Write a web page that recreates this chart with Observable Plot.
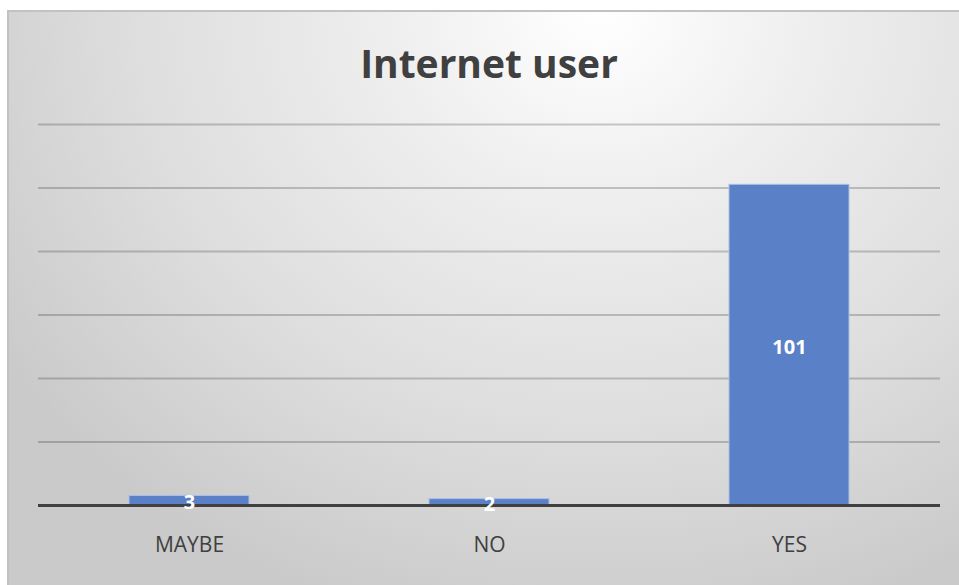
<!DOCTYPE html>
<html>
<head>
<meta charset="utf-8">
<script src="https://cdn.jsdelivr.net/npm/d3@7"></script>
<script src="https://cdn.jsdelivr.net/npm/@observablehq/plot@0.6"></script>
<style>
  html, body { margin: 0; padding: 0; background: #fff; width: 959px; height: 585px; overflow: hidden; }
  #frame {
    position: absolute; left: 7px; top: 10px; width: 952px; height: 575px;
    border-left: 2px solid #c2c2c2; border-top: 2px solid #c2c2c2;
    background: radial-gradient(ellipse 75% 110% at 62% 0%, #ffffff 0%, #eeeeee 30%, #dedede 65%, #cacaca 100%);
  }
  #title {
    position: absolute; left: 0; width: 978px; top: 38px; text-align: center;
    font-family: "Open Sans", sans-serif; font-weight: 700; font-size: 39px; color: #404040;
    line-height: 50px;
  }
  #chart { position: absolute; left: 0; top: 0; }
</style>
</head>
<body>
<div id="frame"></div>
<div id="title">Internet user</div>
<div id="chart"></div>
<script>
const categories = ["MAYBE", "NO", "YES"];
const values = [3, 2, 101];
const gridTicks = [20, 40, 60, 80, 100, 120];

const data = categories.map((c, i) => ({category: c, value: values[i]}));

const chart = Plot.plot({
  width: 959,
  height: 585,
  marginLeft: 38,
  marginRight: 19,
  marginTop: 124,
  marginBottom: 80,
  style: {background: "transparent", fontFamily: "'Open Sans', sans-serif"},
  x: {domain: categories, paddingInner: 0.6, paddingOuter: 0.3, label: null},
  y: {domain: [0, 120], axis: null},
  marks: [
    Plot.gridY(gridTicks, {stroke: "#000", strokeOpacity: 0.2, strokeWidth: 2}),
    Plot.barY(data, {x: "category", y: "value", fill: "#5a81c7", stroke: "#a9bfe6", strokeWidth: 1}),
    Plot.ruleY([0], {stroke: "#404040", strokeWidth: 3}),
    Plot.text(data, {x: "category", y: d => d.value / 2, text: d => String(d.value), fill: "#ffffff", fontSize: 20, fontWeight: "bold", dy: 2}),
    Plot.axisX({tickSize: 0, tickPadding: 32, fontSize: 21, fill: "#404040", label: null})
  ]
});
document.getElementById("chart").appendChild(chart);
</script>
</body>
</html>
